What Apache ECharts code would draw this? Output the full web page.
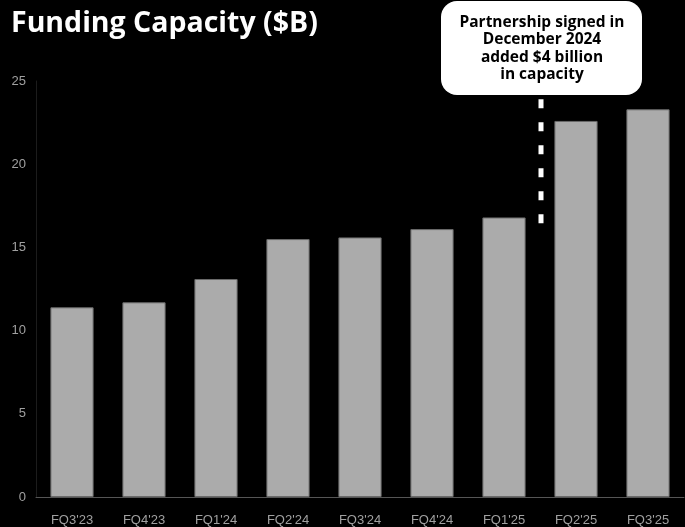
<!DOCTYPE html>
<html>
<head>
<meta charset="utf-8">
<script src="https://cdn.jsdelivr.net/npm/echarts@6/dist/echarts.min.js"></script>
<style>
  html, body { margin: 0; padding: 0; background: #000; }
  #chart { width: 685px; height: 527px; }
</style>
</head>
<body>
<div id="chart"></div>
<script>
// quarters and funding capacity in $B
const quarters = ["FQ3'23", "FQ4'23", "FQ1'24", "FQ2'24", "FQ3'24", "FQ4'24", "FQ1'25", "FQ2'25", "FQ3'25"];
const capacity = [11.4, 11.7, 13.1, 15.5, 15.6, 16.1, 16.8, 22.6, 23.3];
const yTicks = [0, 5, 10, 15, 20, 25];
const noteLines = ['Partnership signed in', 'December 2024', 'added $4 billion', 'in capacity'];
// dashed marker sits between these two quarters, spanning these values
const markerBetween = [6, 7];
const markerRange = [16.3, 23.9];

const chart = echarts.init(document.getElementById('chart'));

let option = {
  backgroundColor: '#000',
  animation: false,
  title: {
    text: 'Funding Capacity ($B)',
    left: 6,
    top: 4,
    textStyle: {
      color: '#fff',
      fontFamily: 'Open Sans',
      fontWeight: 'bold',
      fontSize: 28.5
    }
  },
  grid: { left: 36, right: 1, top: 81, bottom: 30 },
  xAxis: {
    type: 'category',
    data: quarters,
    axisLine: { lineStyle: { color: '#555', width: 1 } },
    axisTick: { show: false },
    axisLabel: {
      color: '#a0a0a0',
      fontFamily: 'Liberation Sans',
      fontSize: 13,
      margin: 17
    }
  },
  yAxis: {
    type: 'value',
    min: yTicks[0],
    max: yTicks[yTicks.length - 1],
    interval: 5,
    axisLine: { show: true, lineStyle: { color: '#1c1c1c', width: 1 } },
    axisTick: { show: false },
    splitLine: { show: false },
    axisLabel: {
      color: '#a0a0a0',
      fontFamily: 'Liberation Sans',
      fontSize: 13,
      margin: 10
    }
  },
  series: [{
    type: 'bar',
    data: capacity,
    barWidth: '60%',
    itemStyle: {
      color: '#ababab',
      borderColor: '#6a6a6a',
      borderWidth: 1
    }
  }]
};

chart.setOption(option);

// annotation: dashed marker + callout box, placed via the chart's own scales
let xa = chart.convertToPixel({ xAxisIndex: 0 }, markerBetween[0]);
let xb = chart.convertToPixel({ xAxisIndex: 0 }, markerBetween[1]);
let mx = Math.round((xa + xb) / 2) + 1;
let yLow = chart.convertToPixel({ yAxisIndex: 0 }, markerRange[0]);
let yHigh = chart.convertToPixel({ yAxisIndex: 0 }, markerRange[1]);

chart.setOption({
  graphic: [
    {
      type: 'line',
      shape: { x1: mx, y1: yHigh, x2: mx, y2: yLow },
      style: { stroke: '#fff', lineWidth: 5, lineDash: [9, 14] }
    },
    {
      type: 'rect',
      shape: { x: mx - 100, y: 1, width: 201, height: 94, r: 16 },
      style: { fill: '#fff' }
    },
    {
      type: 'text',
      x: mx + 1,
      y: 48.5,
      style: {
        text: noteLines.join('\n'),
        fill: '#000',
        font: 'bold 15.5px "Open Sans"',
        lineHeight: 17.5,
        align: 'center',
        verticalAlign: 'middle'
      }
    }
  ]
});
</script>
</body>
</html>
